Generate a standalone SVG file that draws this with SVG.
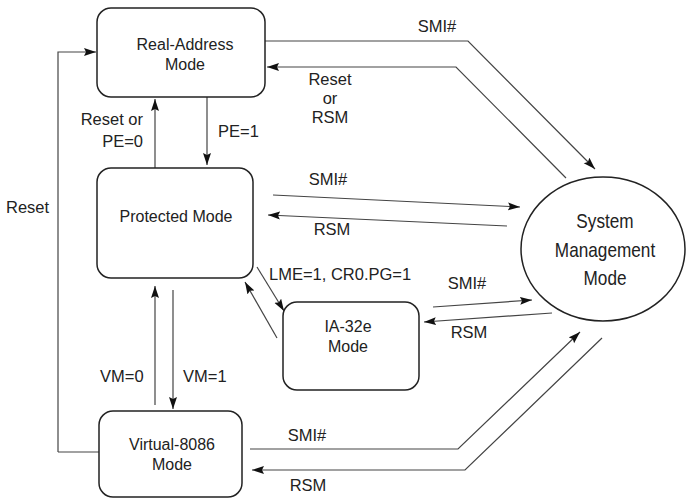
<svg xmlns="http://www.w3.org/2000/svg" width="686" height="498" viewBox="0 0 686 498">
<defs>
<marker id="ah" markerUnits="userSpaceOnUse" markerWidth="13" markerHeight="9" refX="12" refY="4" orient="auto">
<path d="M0,0 L12,4 L0,8 L2,4 z" fill="#111"/>
</marker>
<style>
.box{fill:#fff;stroke:#222;stroke-width:1.5}
.ln{fill:none;stroke:#444;stroke-width:1.2}
.arr{fill:none;stroke:#444;stroke-width:1.2;marker-end:url(#ah)}
text{font-family:"Liberation Sans",Arial,sans-serif;fill:#222}
.nt{font-size:16px;text-anchor:middle}
.lb{font-size:16.5px}
.c{text-anchor:middle}
</style>
</defs>
<rect width="686" height="498" fill="#fff"/>
<g id="connectors">
<polyline class="arr" points="58,452 58,52 96,52"/>
<line class="ln" x1="58" y1="452" x2="99" y2="452"/>
<line class="arr" x1="155" y1="168" x2="155" y2="99"/>
<line class="arr" x1="207" y1="97" x2="207" y2="165"/>
<polyline class="arr" points="265,41 468,41 595,169"/>
<polyline class="arr" points="566,178 456,67 267,67"/>
<line class="arr" x1="273" y1="195" x2="520" y2="207"/>
<line class="arr" x1="507" y1="226" x2="268" y2="215"/>
<line class="arr" x1="257" y1="267" x2="284" y2="311"/>
<line class="arr" x1="277" y1="338" x2="245" y2="282"/>
<line class="arr" x1="433" y1="307" x2="532" y2="300"/>
<line class="arr" x1="552" y1="313" x2="424" y2="322"/>
<line class="arr" x1="155" y1="405" x2="155" y2="286"/>
<line class="arr" x1="173" y1="290" x2="173" y2="409"/>
<polyline class="arr" points="250,449 458,449 580,332"/>
<polyline class="arr" points="602,338 465,470 252,470"/>
</g>
<g id="real">
<rect class="box" x="97" y="8" width="168" height="89" rx="14"/>
<text class="nt" x="185" y="50">Real-Address</text>
<text class="nt" x="185" y="70">Mode</text>
</g>
<g id="protected">
<rect class="box" x="97" y="168" width="156" height="110" rx="14"/>
<text class="nt" x="176" y="222">Protected Mode</text>
</g>
<g id="ia32e">
<rect class="box" x="283" y="302" width="136" height="88" rx="14"/>
<text class="nt" x="348" y="332">IA-32e</text>
<text class="nt" x="348" y="352">Mode</text>
</g>
<g id="v8086">
<rect class="box" x="99" y="411" width="143" height="86" rx="14"/>
<text class="nt" x="172" y="450">Virtual-8086</text>
<text class="nt" x="172" y="470">Mode</text>
</g>
<g id="smm">
<ellipse class="box" cx="603" cy="249" rx="82" ry="72"/>
<g transform="translate(605,0) scale(0.86,1)">
<text x="0" y="228" font-size="20" text-anchor="middle">System</text>
<text x="0" y="257" font-size="20" text-anchor="middle">Management</text>
<text x="0" y="285" font-size="20" text-anchor="middle">Mode</text>
</g>
</g>
<g id="labels">
<text class="lb c" x="437" y="32">SMI#</text>
<text class="lb c" x="330" y="85">Reset</text>
<text class="lb c" x="330" y="104">or</text>
<text class="lb c" x="330" y="123">RSM</text>
<text class="lb" x="143" y="125" text-anchor="end">Reset or</text>
<text class="lb" x="143" y="147" text-anchor="end">PE=0</text>
<text class="lb" x="218" y="137">PE=1</text>
<text class="lb" x="6" y="213">Reset</text>
<text class="lb c" x="328" y="185">SMI#</text>
<text class="lb c" x="332" y="235">RSM</text>
<text class="lb" x="269" y="280">LME=1, CR0.PG=1</text>
<text class="lb c" x="467" y="289">SMI#</text>
<text class="lb c" x="469" y="338">RSM</text>
<text class="lb" x="100" y="382">VM=0</text>
<text class="lb" x="183" y="382">VM=1</text>
<text class="lb c" x="307" y="441">SMI#</text>
<text class="lb c" x="308" y="491">RSM</text>
</g>
</svg>
